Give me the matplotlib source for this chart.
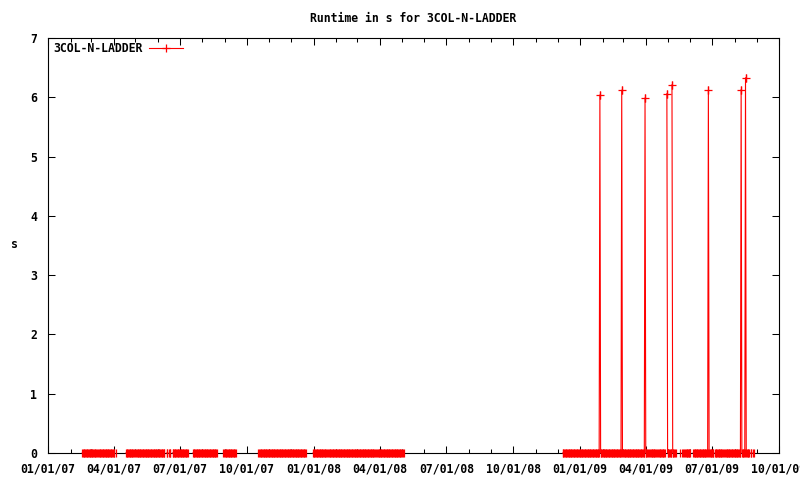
import numpy as np
import matplotlib
matplotlib.use("Agg")
import matplotlib.pyplot as plt
import matplotlib.dates as mdates
from matplotlib.lines import Line2D

title = "Runtime in s for 3COL-N-LADDER"
series_name = "3COL-N-LADDER"
y_label = "s"

# runs of daily measurements whose runtime is 0 s (start, end inclusive)
zero_runs = [
    ("2007-02-17", "2007-03-10"), ("2007-03-12", "2007-04-02"), ("2007-04-04", "2007-04-04"),
    ("2007-04-18", "2007-04-29"), ("2007-05-01", "2007-05-20"), ("2007-05-21", "2007-05-26"),
    ("2007-05-27", "2007-06-03"), ("2007-06-04", "2007-06-10"), ("2007-06-13", "2007-06-14"),
    ("2007-06-16", "2007-06-18"), ("2007-06-21", "2007-07-12"), ("2007-07-19", "2007-08-21"),
    ("2007-08-30", "2007-09-16"), ("2007-10-17", "2007-12-21"), ("2007-12-31", "2008-01-19"),
    ("2008-01-21", "2008-03-25"), ("2008-03-27", "2008-05-02"), ("2008-05-04", "2008-05-04"),
    ("2008-12-08", "2009-01-13"), ("2009-01-14", "2009-02-09"), ("2009-02-10", "2009-04-05"),
    ("2009-04-07", "2009-04-16"), ("2009-04-18", "2009-04-27"), ("2009-04-30", "2009-05-06"),
    ("2009-05-07", "2009-05-12"), ("2009-05-18", "2009-05-18"), ("2009-05-21", "2009-05-22"),
    ("2009-05-24", "2009-05-30"), ("2009-05-31", "2009-06-01"), ("2009-06-05", "2009-07-03"),
    ("2009-07-05", "2009-07-17"), ("2009-07-19", "2009-08-21"), ("2009-08-23", "2009-08-24"),
    ("2009-08-26", "2009-08-27"),
]

# the measurements that were not 0 s
spike_dates = ["2009-01-28", "2009-02-27", "2009-03-31", "2009-04-30",
               "2009-05-07", "2009-06-26", "2009-08-10", "2009-08-16"]
spike_values = [6.04, 6.12, 5.99, 6.06, 6.21, 6.12, 6.13, 6.33]

x_start, x_end = "2007-01-01", "2009-10-01"
y_ticks = [0, 1, 2, 3, 4, 5, 6, 7]

# build the measured series (gaps between runs are left unconnected)
dates, values = [], []
spikes = {np.datetime64(d, "D"): v for d, v in zip(spike_dates, spike_values)}
for s, e in zero_runs:
    days = np.arange(np.datetime64(s, "D"), np.datetime64(e, "D") + np.timedelta64(1, "D"))
    for d in days:
        dates.append(mdates.date2num(d.astype("datetime64[s]").astype(object)))
        values.append(spikes.get(d, 0.0))
    dates.append(dates[-1] + 0.5)
    values.append(np.nan)
dates = np.array(dates)
values = np.array(values)
spike_x = mdates.datestr2num(spike_dates)

font = "DejaVu Sans Mono"
plt.rcParams["font.family"] = [font]
plt.rcParams["font.weight"] = "bold"
fs = 8.3
red = "#ff0000"

fig = plt.figure(figsize=(8, 4.8), dpi=100)
L, R, T, B = 48, 779, 38, 453
ax = fig.add_axes([L / 800, 1 - B / 480, (R - L) / 800, (B - T) / 480])

ax.plot(dates, values, color=red, lw=0.8, marker="|", ms=5.4, mew=0.9,
        clip_on=False, zorder=3)
ax.plot(spike_x, spike_values, linestyle="none", color=red, marker="+", ms=5.4,
        mew=0.9, clip_on=False, zorder=3)

ax.set_xlim(mdates.datestr2num(x_start), mdates.datestr2num(x_end))
ax.set_ylim(0, 7)
ax.set_yticks(y_ticks)
ax.xaxis.set_major_locator(mdates.MonthLocator(bymonth=[1, 4, 7, 10]))
ax.xaxis.set_minor_locator(mdates.MonthLocator())
ax.xaxis.set_major_formatter(mdates.DateFormatter("%m/%d/%y"))

ax.tick_params(axis="both", which="major", direction="in", length=5, width=0.75,
               top=True, right=True, pad=7, labelsize=fs, colors="black")
ax.tick_params(axis="x", which="minor", direction="in", length=3, width=0.75, top=True)
ax.tick_params(axis="y", which="major", pad=8)
for sp in ax.spines.values():
    sp.set_linewidth(0.8)
    sp.set_color("black")
    sp.set_zorder(2.5)

fig.text((L + R) / 2 / 800, 1 - 18 / 480, title, ha="center", va="center", fontsize=fs)
fig.text(14 / 800, 1 - 245 / 480, y_label, ha="center", va="center", fontsize=fs)

handle = Line2D([], [], color=red, lw=0.8, marker="+", ms=5.4, mew=0.9)
ax.legend([handle], [series_name], loc="upper left",
          bbox_to_anchor=(53 / 800, 1 - 42 / 480),
          bbox_transform=fig.transFigure, frameon=False, markerfirst=False,
          handlelength=2.9, handletextpad=0.6, borderpad=0, borderaxespad=0,
          fontsize=fs)

fig.savefig("out.png", dpi=100)
